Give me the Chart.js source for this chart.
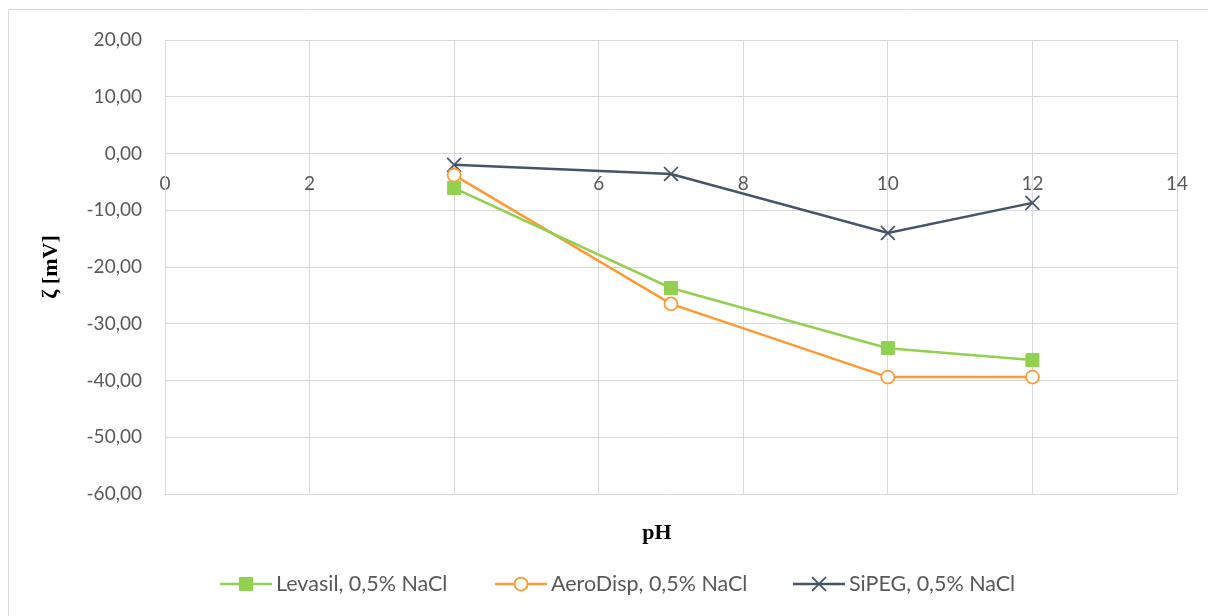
<!DOCTYPE html>
<html>
<head>
<meta charset="utf-8">
<script src="https://cdn.jsdelivr.net/npm/chart.js@4/dist/chart.umd.min.js"></script>
<style>
  html, body { margin: 0; padding: 0; background: #ffffff; }
  canvas { display: block; }
</style>
</head>
<body>
<canvas id="zeta" width="1208" height="616"></canvas>
<script>
// pH values at which zeta potential was measured
const phValues = [4, 7, 10, 12];

// zeta potential [mV] per sample
const levasil  = [-6.1, -23.7, -34.3, -36.4];
const aeroDisp = [-3.8, -26.5, -39.4, -39.4];
const siPeg    = [-2.0, -3.6, -14.0, -8.7];

const seriesNames = ['Levasil, 0,5% NaCl', 'AeroDisp, 0,5% NaCl', 'SiPEG, 0,5% NaCl'];

// axis ranges
const xRange = { min: 0, max: 14, step: 2 };
const yRange = { min: -60, max: 20, step: 10 };

const TEXT = '#595959';
const GRID = '#D9D9D9';
const SANS = 'Lato, "Open Sans", sans-serif';
const SERIF = '"Liberation Serif", "DejaVu Serif", serif';

// left edge of each legend entry's line sample
const legendStarts = [220, 495, 793];

function toPoints(ys) {
  return phValues.map((x, i) => ({ x: x, y: ys[i] }));
}

function fmtComma(v) {
  return v.toFixed(2).replace('.', ',');
}

// frame lines, x-axis title and legend with line + marker samples
const decorations = {
  id: 'decorations',
  beforeDraw(chart) {
    const ctx = chart.ctx;
    ctx.save();
    ctx.strokeStyle = GRID;
    ctx.lineWidth = 1;
    ctx.beginPath();
    ctx.moveTo(8.5, chart.height);
    ctx.lineTo(8.5, 9.5);
    ctx.lineTo(chart.width, 9.5);
    ctx.stroke();
    ctx.restore();
  },
  afterDraw(chart) {
    const ctx = chart.ctx;
    ctx.save();
    // x axis title
    ctx.fillStyle = '#000000';
    ctx.font = 'bold 22px ' + SERIF;
    ctx.textAlign = 'center';
    ctx.textBaseline = 'middle';
    ctx.fillText('pH', 657, 533);

    // legend
    ctx.font = '21.5px ' + SANS;
    ctx.textBaseline = 'middle';
    ctx.textAlign = 'left';
    const ly = 584;
    const sampleLen = 52;
    const gap = 4;
    chart.data.datasets.forEach((ds, i) => {
      const x = legendStarts[i];
      const cx = x + sampleLen / 2;
      ctx.strokeStyle = ds.borderColor;
      ctx.lineWidth = ds.borderWidth;
      ctx.beginPath();
      ctx.moveTo(x, ly);
      ctx.lineTo(x + sampleLen, ly);
      ctx.stroke();
      ctx.fillStyle = ds.pointBackgroundColor;
      ctx.strokeStyle = ds.pointBorderColor;
      ctx.lineWidth = ds.pointBorderWidth;
      Chart.helpers.drawPoint(ctx, {
        pointStyle: ds.pointStyle,
        radius: ds.pointRadius,
        rotation: 0,
        borderWidth: ds.pointBorderWidth
      }, cx, ly);
      ctx.fillStyle = TEXT;
      ctx.fillText(ds.label, x + sampleLen + gap, ly);
    });
    ctx.restore();
  }
};

new Chart(document.getElementById('zeta'), {
  type: 'line',
  data: {
    datasets: [
      {
        label: seriesNames[0],
        data: toPoints(levasil),
        borderColor: '#92D050',
        borderWidth: 2.5,
        pointStyle: 'rect',
        pointRadius: 9.2,
        pointHoverRadius: 9.2,
        pointBackgroundColor: '#92D050',
        pointBorderColor: '#92D050',
        pointBorderWidth: 1
      },
      {
        label: seriesNames[1],
        data: toPoints(aeroDisp),
        borderColor: '#FF9933',
        borderWidth: 2.5,
        pointStyle: 'circle',
        pointRadius: 6.5,
        pointHoverRadius: 6.5,
        pointBackgroundColor: '#FFFFFF',
        pointBorderColor: '#FF9933',
        pointBorderWidth: 1.75
      },
      {
        label: seriesNames[2],
        data: toPoints(siPeg),
        borderColor: '#44546A',
        borderWidth: 2.5,
        pointStyle: 'crossRot',
        pointRadius: 9.8,
        pointHoverRadius: 9.8,
        pointBackgroundColor: '#44546A',
        pointBorderColor: '#44546A',
        pointBorderWidth: 1.75
      }
    ]
  },
  options: {
    responsive: false,
    animation: false,
    events: [],
    layout: { padding: { left: 10, top: 40, right: 31, bottom: 122 } },
    plugins: {
      legend: { display: false },
      tooltip: { enabled: false }
    },
    scales: {
      x: {
        type: 'linear',
        position: { y: 0 },
        min: xRange.min,
        max: xRange.max,
        grid: { color: GRID, lineWidth: 1, drawTicks: false },
        border: { color: GRID, width: 1 },
        ticks: {
          stepSize: xRange.step,
          color: TEXT,
          font: { family: SANS, size: 19 },
          padding: 19,
          maxRotation: 0
        }
      },
      y: {
        type: 'linear',
        min: yRange.min,
        max: yRange.max,
        afterFit(scale) { scale.width = 155; },
        grid: { color: GRID, lineWidth: 1, drawTicks: false },
        border: { color: GRID, width: 1 },
        ticks: {
          stepSize: yRange.step,
          color: TEXT,
          font: { family: SANS, size: 19 },
          padding: 23,
          callback: (v) => fmtComma(v)
        },
        title: {
          display: true,
          text: 'ζ [mV]',
          color: '#000000',
          font: { family: SERIF, size: 22, weight: 'bold' },
          padding: { top: 28, bottom: 0 }
        }
      }
    }
  },
  plugins: [decorations]
});
</script>
</body>
</html>
